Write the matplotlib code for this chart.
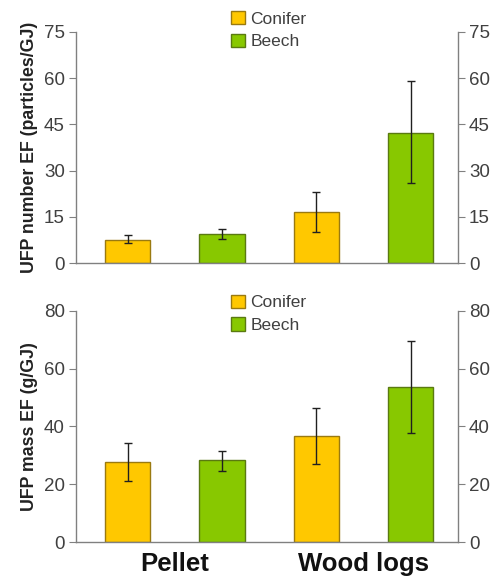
import matplotlib.pyplot as plt
from matplotlib.patches import Patch

plt.rcParams['font.family'] = ['Liberation Sans', 'DejaVu Sans']

fuels = ['Pellet', 'Wood logs']
species = ['Conifer', 'Beech']
colors = ['#FFC800', '#88C800']
edges = ['#9A7A10', '#5A7A10']

# bar order: conifer pellet, beech pellet, conifer logs, beech logs
num_ef = [7.6, 9.5, 16.5, 42.3]
num_lo = [6.4, 8.0, 10.0, 26.0]
num_hi = [9.0, 11.2, 23.0, 59.2]

mass_ef = [27.8, 28.3, 36.7, 53.6]
mass_lo = [21.0, 24.6, 27.0, 37.7]
mass_hi = [34.3, 31.6, 46.4, 69.6]

bar_colors = [colors[0], colors[1], colors[0], colors[1]]
bar_edges = [edges[0], edges[1], edges[0], edges[1]]
xpos = [0, 1, 2, 3]

fig = plt.figure(figsize=(4.96, 5.81), dpi=100)
ax1 = fig.add_axes([0.153, 0.547, 0.77, 0.398])
ax2 = fig.add_axes([0.153, 0.067, 0.77, 0.398])

grey = '#808080'
txt = '#404040'


def draw(ax, vals, lo, hi, ymax, step, ylabel, leg_y):
    yerr = [[v - l for v, l in zip(vals, lo)], [h - v for v, h in zip(vals, hi)]]
    ax.bar(xpos, vals, width=0.48, color=bar_colors, edgecolor=bar_edges,
           linewidth=1.0, zorder=2)
    ax.errorbar(xpos, vals, yerr=yerr, fmt='none', ecolor='#202020',
                elinewidth=1.0, capsize=3, capthick=1.0, zorder=3)
    ax.set_xlim(-0.55, 3.5)
    ax.set_ylim(0, ymax)
    ax.set_yticks(range(0, ymax + 1, step))
    ax.spines['top'].set_visible(False)
    for s in ['left', 'right', 'bottom']:
        ax.spines[s].set_color(grey)
        ax.spines[s].set_linewidth(1.0)
    ax.tick_params(axis='y', which='both', left=True, right=True,
                   labelleft=True, labelright=True, direction='out',
                   length=5, color=grey, labelsize=13.5, labelcolor=txt, pad=3)
    ax.tick_params(axis='x', bottom=False, labelbottom=False)
    ax.set_ylabel(ylabel, fontsize=12.8, fontweight='bold', color='#222222',
                  labelpad=4)
    handles = [Patch(facecolor=colors[i], edgecolor=edges[i], label=species[i])
               for i in range(2)]
    ax.legend(handles=handles, loc='upper center', bbox_to_anchor=(0.505, leg_y),
              frameon=False, fontsize=12.5, handlelength=0.8, handleheight=0.8,
              handletextpad=0.3, labelspacing=0.4, labelcolor=txt,
              borderaxespad=0)


draw(ax1, num_ef, num_lo, num_hi, 75, 15, 'UFP number EF (particles/GJ)', 1.12)
draw(ax2, mass_ef, mass_lo, mass_hi, 80, 20, 'UFP mass EF (g/GJ)', 1.10)

ax2.set_xticks([0.5, 2.5])
ax2.set_xticklabels(fuels)
ax2.tick_params(axis='x', labelbottom=True, labelsize=18.5, pad=4)
for lab in ax2.get_xticklabels():
    lab.set_fontweight('bold')
    lab.set_color('#111111')

fig.savefig('out.png', dpi=100)
